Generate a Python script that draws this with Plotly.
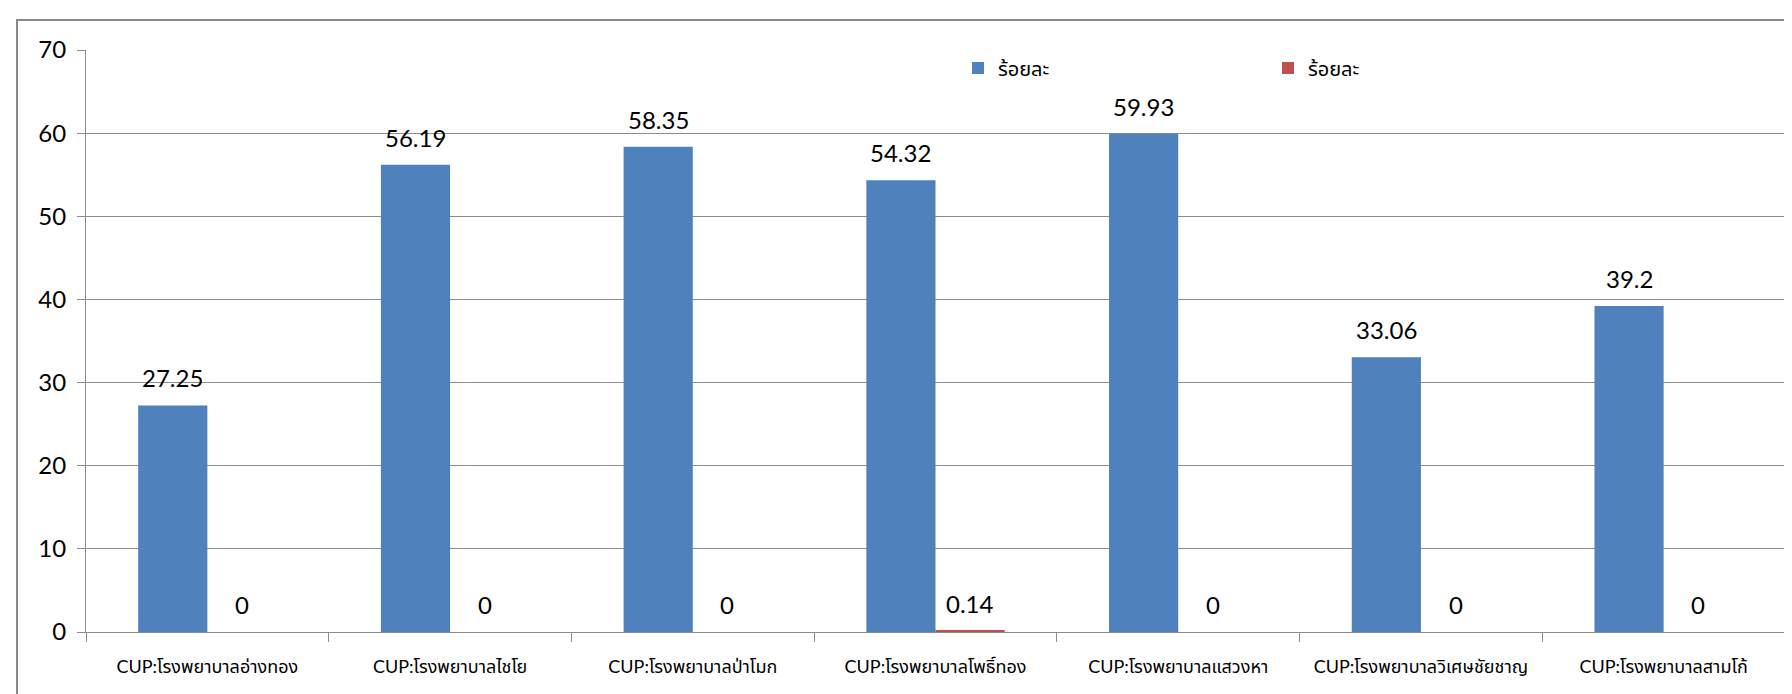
import plotly.graph_objects as go

categories = [
    "CUP:โรงพยาบาลอ่างทอง",
    "CUP:โรงพยาบาลไชโย",
    "CUP:โรงพยาบาลป่าโมก",
    "CUP:โรงพยาบาลโพธิ์ทอง",
    "CUP:โรงพยาบาลแสวงหา",
    "CUP:โรงพยาบาลวิเศษชัยชาญ",
    "CUP:โรงพยาบาลสามโก้",
]
series1_name = "ร้อยละ"
series1 = [27.25, 56.19, 58.35, 54.32, 59.93, 33.06, 39.2]
series2_name = "ร้อยละ"
series2 = [0, 0, 0, 0.14, 0, 0, 0]
y_ticks = [0, 10, 20, 30, 40, 50, 60, 70]

W, H = 1792, 694
ML, MR, MT, MB = 78, 15, 42, 70
plot_w = W - ML - MR
plot_h = H - MT - MB
cat_w = plot_w / len(categories)
BARGAP = 0.43
bar_w = cat_w * (1 - BARGAP) / 2

FONT = "Lato, 'Noto Sans Thai', 'Noto Sans', sans-serif"
BLUE = "#4F81BD"
RED = "#C0504D"
GRID = "#8C8C8C"

def fmt(v):
    return f"{v:g}"

fig = go.Figure()
fig.add_trace(go.Bar(x=categories, y=series1, name=series1_name,
                     marker=dict(color=BLUE, line=dict(width=0))))
fig.add_trace(go.Bar(x=categories, y=series2, name=series2_name,
                     marker=dict(color=RED, line=dict(width=0))))

annotations = []
for c, v in zip(categories, series1):
    annotations.append(dict(x=c, y=v, xref="x", yref="y", text=fmt(v),
                            showarrow=False, yanchor="bottom",
                            xshift=-bar_w / 2, yshift=11,
                            font=dict(family=FONT, size=24, color="#000000")))
for c, v in zip(categories, series2):
    annotations.append(dict(x=c, y=v, xref="x", yref="y", text=fmt(v),
                            showarrow=False, yanchor="bottom",
                            xshift=bar_w / 2, yshift=11,
                            font=dict(family=FONT, size=24, color="#000000")))

fig.update_layout(
    width=W, height=H,
    margin=dict(l=ML, r=MR, t=MT, b=MB, autoexpand=False),
    paper_bgcolor="white", plot_bgcolor="white",
    barmode="group", bargap=BARGAP, bargroupgap=0,
    font=dict(family=FONT, size=20, color="#000000"),
    showlegend=True,
    legend=dict(orientation="h", x=(950 - ML) / plot_w, y=(H - MB - 60) / plot_h,
                xanchor="left", yanchor="middle",
                entrywidth=265, entrywidthmode="pixels",
                font=dict(family=FONT, size=20, color="#000000"),
                bgcolor="rgba(0,0,0,0)", itemclick=False),
    annotations=annotations,
    shapes=[dict(type="rect", xref="paper", yref="paper",
                 x0=-69 / plot_w, x1=1.2, y0=-0.5, y1=(H - MB - 12) / plot_h,
                 line=dict(color="#878787", width=2), fillcolor="rgba(0,0,0,0)",
                 layer="below")],
)
fig.update_xaxes(
    type="category", automargin=False, showline=True, linecolor=GRID, linewidth=1,
    showgrid=False, ticks="outside", tickson="boundaries", ticklen=9,
    tickcolor=GRID, tickfont=dict(family=FONT, size=18, color="#000000"),
    ticklabelstandoff=18,
)
fig.update_yaxes(
    automargin=False, range=[0, 70], tickvals=y_ticks,
    ticktext=[str(t) for t in y_ticks],
    showline=True, linecolor=GRID, linewidth=1,
    showgrid=True, gridcolor=GRID, gridwidth=1,
    ticks="outside", ticklen=8, tickcolor=GRID,
    tickfont=dict(family=FONT, size=24, color="#000000"),
    ticklabelstandoff=6,
    zeroline=False,
)

fig.write_html("out.html")
